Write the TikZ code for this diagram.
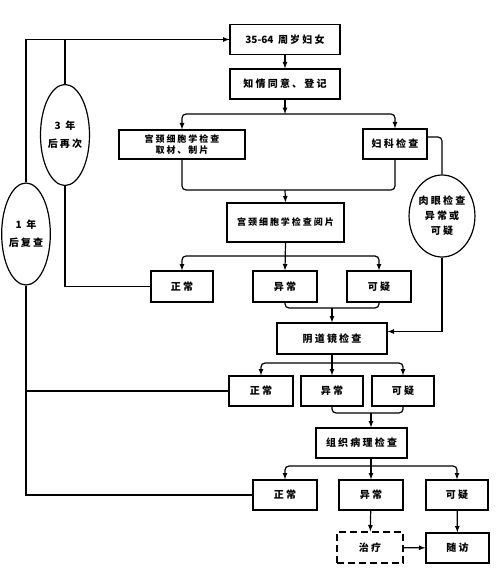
\documentclass[tikz,border=0pt]{standalone}
\usepackage{fontspec}
\newfontfamily\cjk{Noto Sans CJK SC}[LetterSpace=22]
\newfontfamily\cjkdigits{Noto Sans CJK SC}
\usetikzlibrary{shapes.geometric}

\begin{document}
\begin{tikzpicture}[x=1pt, y=-1pt, line width=1.2pt,
    box/.style 2 args={draw, minimum width=#1, minimum height=#2, inner sep=0pt,
        align=center, font=\cjk\bfseries\normalsize},
    oval/.style 2 args={draw, ellipse, minimum width=#1, minimum height=#2, inner sep=0pt,
        align=center, fill=white, font=\cjk\bfseries\normalsize},
    elbow/.style={rounded corners=4pt}]

    % Page frame (pixel units, y pointing down)
    \useasboundingbox (0,0) rectangle (497,572);

    % --- 1. Screening entry ---
    \node[box={110pt}{30pt}] (women) at (285,39.5) {{\cjkdigits 35-64} 周岁妇女};
    \node[box={110pt}{30pt}] (consent) at (285,84) {知情同意、登记};

    % --- 2. First examinations ---
    \node[box={126pt}{29pt}, font=\cjk\bfseries\small] (cyto) at (182,144.5) {宫颈细胞学检查\\取材、制片};
    \node[box={64pt}{30pt}] (gyn) at (395,144) {妇科检查};
    \node[box={117pt}{39pt}, font=\cjk\bfseries\small] (read) at (285.5,222.5) {宫颈细胞学检查阅片};
    \node[oval={65pt}{82pt}] (eye) at (442,216) {肉眼检查\\[3pt]异常或\\[3pt]可疑};

    % --- 3. Cytology results ---
    \node[box={62pt}{31pt}] (normA) at (182,286.5) {正常};
    \node[box={64pt}{31pt}] (abnA) at (285,286.5) {异常};
    \node[box={64pt}{31pt}] (suspA) at (379,286.5) {可疑};

    % --- 4. Colposcopy and its results ---
    \node[box={110pt}{31pt}] (colpo) at (332,338.5) {阴道镜检查};
    \node[box={64pt}{30pt}] (normB) at (261,391) {正常};
    \node[box={62pt}{30pt}] (abnB) at (332,391) {异常};
    \node[box={62pt}{30pt}] (suspB) at (403,391) {可疑};

    % --- 5. Histopathology and its results ---
    \node[box={91pt}{30pt}] (patho) at (361.5,443) {组织病理检查};
    \node[box={64pt}{30pt}] (normC) at (285,495) {正常};
    \node[box={64pt}{30pt}] (abnC) at (371,495) {异常};
    \node[box={62pt}{30pt}] (suspC) at (457,495) {可疑};
    \node[box={66pt}{31pt}, dash pattern=on 7pt off 4pt] (treat) at (370,547.5) {治疗};
    \node[box={63pt}{30pt}] (follow) at (457.5,548) {随访};

    % --- 6. Recall intervals ---
    \node[oval={49pt}{101pt}] (three) at (65,135) {3 年\\[6pt]后再次};
    \node[oval={47pt}{102pt}] (one) at (26,234) {1 年\\[6pt]后复查};

    \coordinate (split1) at (285,114);   % below consent
    \coordinate (join1) at (285,190);    % below cytology / gynaecology
    \coordinate (split2) at (285,256);   % below slide reading
    \coordinate (join2) at (332,308);    % below abnormal / suspicious
    \coordinate (split3) at (332,363);   % below colposcopy
    \coordinate (join3) at (371,413);    % below abnormal / suspicious
    \coordinate (split4) at (371,466);   % below histopathology

    % --- 7. Main flow ---
    \draw[-latex] (women) -- (consent);
    \draw[-latex] (consent) -- (split1);
    \draw[-latex, elbow] (split1) -| (cyto.north);
    \draw[-latex, elbow] (split1) -| (gyn.north);
    \draw[elbow] (cyto.south) |- (join1) -| (gyn.south);
    \draw[-latex] (join1) -- (read.north);

    \draw[elbow] ([yshift=7pt]gyn.east) -| (eye.north);
    \draw[-latex] (eye.south) |- ([yshift=7pt]colpo.east);

    \draw[-latex] (read.south) -- (abnA.north);
    \draw[-latex, elbow] (split2) -| (normA.north);
    \draw[-latex, elbow] (split2) -| (suspA.north);
    \draw[elbow] (abnA.south) |- (join2) -| (suspA.south);
    \draw[-latex] (join2) -- (colpo.north);

    \draw[-latex] (colpo.south) -- (abnB.north);
    \draw[-latex, elbow] (split3) -| (normB.north);
    \draw[-latex, elbow] (split3) -| (suspB.north);
    \draw[elbow] (abnB.south) |- (join3) -| (suspB.south);
    \draw[-latex] (join3) -- (join3 |- patho.north);

    \draw[-latex] (split4 |- patho.south) -- (abnC.north);
    \draw[-latex, elbow] (split4) -| (normC.north);
    \draw[-latex, elbow] (split4) -| (suspC.north);
    \draw[-latex] (abnC) -- (treat);
    \draw[-latex] (suspC) -- (follow);
    \draw[-latex] (treat) -- (follow);

    % --- 8. Return loops ---
    \draw (normA.west) -| (three.south);
    \draw[-latex] (three.north) |- (women.west);
    \draw (one.north) |- (women.west);
    \draw (normC.west) -| (one.south);
    \draw (normB.west) -- (normB.west -| one.south);

\end{tikzpicture}
\end{document}
